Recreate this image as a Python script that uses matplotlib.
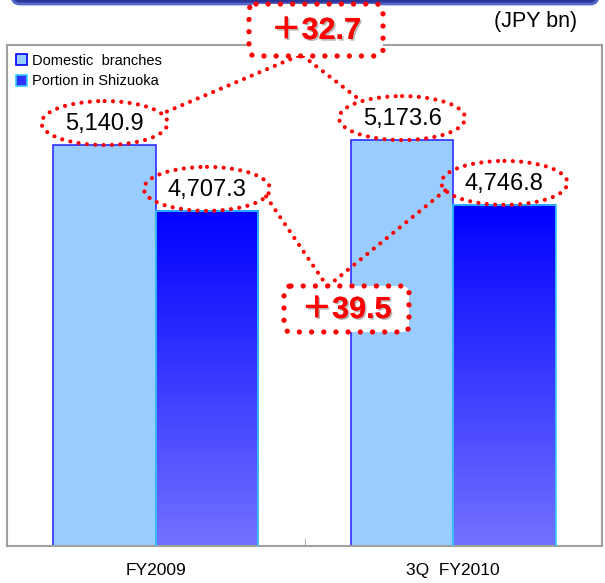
import matplotlib.pyplot as plt
import matplotlib.patheffects as pe
import numpy as np
from matplotlib.colors import LinearSegmentedColormap
from matplotlib.patches import Ellipse, FancyBboxPatch, Patch

# Deposit balances (JPY bn)
categories = ["FY2009", "3Q  FY2010"]
domestic = [5140.9, 5173.6]
shizuoka = [4707.3, 4746.8]
series_names = ["Domestic  branches", "Portion in Shizuoka"]
unit_label = "(JPY bn)"

W, H = 605, 583
NARROW = ['Liberation Sans Narrow', 'Liberation Sans', 'DejaVu Sans']
PLAIN = ['Liberation Sans', 'DejaVu Sans']
RED = '#FF0000'
DOTS = (0, (0.01, 2.0))
YMIN, YMAX = 2500, 5800

fig = plt.figure(figsize=(W / 100, H / 100), dpi=100)
ax = fig.add_axes([7 / W, (H - 546) / H, (602 - 7) / W, (546 - 45) / H])

x = np.arange(len(categories))
bw = 0.344
dom_x = x - bw / 2
shz_x = x + bw / 2

ax.bar(dom_x, domestic, bw, color='#99CCFF', edgecolor='#2F2FFF', linewidth=1.2, zorder=2)

# blue gradient fill for the Shizuoka bars
grad_cmap = LinearSegmentedColormap.from_list('shz', ['#0000FF', '#7272FF'])
grad = np.linspace(0, 1, 256).reshape(-1, 1)
for xi, v in zip(shz_x, shizuoka):
    ax.imshow(grad, cmap=grad_cmap, aspect='auto', origin='upper',
              extent=[xi - bw / 2, xi + bw / 2, YMIN, v], zorder=2)
ax.bar(shz_x, shizuoka, bw, facecolor='none', edgecolor='#33CCFF', linewidth=1.2, zorder=3)

ax.set_xlim(-0.5, 1.5)
ax.set_ylim(YMIN, YMAX)
ax.set_yticks([])
ax.set_xticks(x, categories)
ax.set_xticks([0.5], minor=True)
ax.tick_params(axis='x', which='major', length=0, pad=12, labelsize=12.5)
ax.tick_params(axis='x', which='minor', direction='in', length=6, color='#999999')
for lab in ax.get_xticklabels():
    lab.set_family(NARROW)
for s in ax.spines.values():
    s.set_color('#A0A0A0')
    s.set_linewidth(1.5)

handles = [Patch(facecolor='#99CCFF', edgecolor='#0000FF', linewidth=1.2),
           Patch(facecolor='#3030FF', edgecolor='#33CCFF', linewidth=1.2)]
ax.legend(handles, series_names, loc='upper left', frameon=False,
          handlelength=0.75, handleheight=0.75, handletextpad=0.35,
          borderaxespad=0.2, labelspacing=0.45,
          prop={'family': PLAIN, 'size': 10.5})

# overlay in pixel coordinates for the callouts
ov = fig.add_axes([0, 0, 1, 1])
ov.set_xlim(0, W)
ov.set_ylim(H, 0)
ov.axis('off')

ov.add_patch(FancyBboxPatch((12, -20), 586, 24, boxstyle='round,pad=0,rounding_size=8',
                            facecolor='#2B3699', edgecolor='#5566CC', linewidth=2, clip_on=False))
ov.text(577, 22, unit_label, ha='right', va='center', fontsize=15.5, family=NARROW)


def to_px(xv, yv):
    dx, dy = ax.transData.transform((xv, yv))
    return dx, H - dy


def on_ellipse(c, w, h, deg):
    t = np.radians(deg)
    return c[0] + w / 2 * np.cos(t), c[1] - h / 2 * np.sin(t)


ew, eh = 126, 44
centers = {}
for key, xs, vals in (('dom', dom_x, domestic), ('shz', shz_x, shizuoka)):
    for i, (xi, v) in enumerate(zip(xs, vals)):
        px, py = to_px(xi, v)
        c = (px, py - 22)
        centers[(key, i)] = c
        ov.add_patch(Ellipse(c, ew, eh, fill=False, edgecolor=RED, linewidth=3,
                             linestyle=DOTS, capstyle='round', zorder=2))
        ov.text(c[0], c[1] + 1, f"{v:,.1f}", ha='center', va='center',
                fontsize=17, family=NARROW, zorder=4)

shadow = [pe.withSimplePatchShadow(offset=(1.2, -1.2), shadow_rgbFace='#B0B0B0', alpha=0.9),
          pe.Normal()]


def diff_box(x0, y0, w, h, value):
    ov.add_patch(FancyBboxPatch((x0, y0), w, h, boxstyle='round,pad=0,rounding_size=7',
                                facecolor='white', edgecolor=RED, linewidth=3.8,
                                linestyle=(0, (0.01, 2.3)), capstyle='round', zorder=3))
    # full-width plus comes from the CJK font
    ov.text(x0 + w / 2, y0 + h / 2 + 1, f"\uff0b{value:.1f}", ha='center', va='center',
            fontsize=22, fontweight='bold', color=RED,
            family=['Liberation Sans', 'Noto Sans CJK JP', 'DejaVu Sans'],
            path_effects=shadow, zorder=4)


def connector(p0, p1):
    ov.plot([p0[0], p1[0]], [p0[1], p1[1]], color=RED, linewidth=3, linestyle=DOTS,
            dash_capstyle='round', zorder=1)


# change in domestic branches
b1 = (249, 4, 134, 52)
diff_box(*b1, domestic[1] - domestic[0])
connector((b1[0] + 49, b1[1] + b1[3]), on_ellipse(centers[('dom', 0)], ew, eh, 25))
connector((b1[0] + 54, b1[1] + b1[3]), on_ellipse(centers[('dom', 1)], ew, eh, 130))

# change in Shizuoka portion
b2 = (284, 286, 125, 46)
diff_box(*b2, shizuoka[1] - shizuoka[0])
connector(on_ellipse(centers[('shz', 0)], ew, eh, -20), (b2[0] + 43, b2[1]))
connector(on_ellipse(centers[('shz', 1)], ew, eh, 200), (b2[0] + 44, b2[1]))

fig.savefig('out.png', dpi=100)
